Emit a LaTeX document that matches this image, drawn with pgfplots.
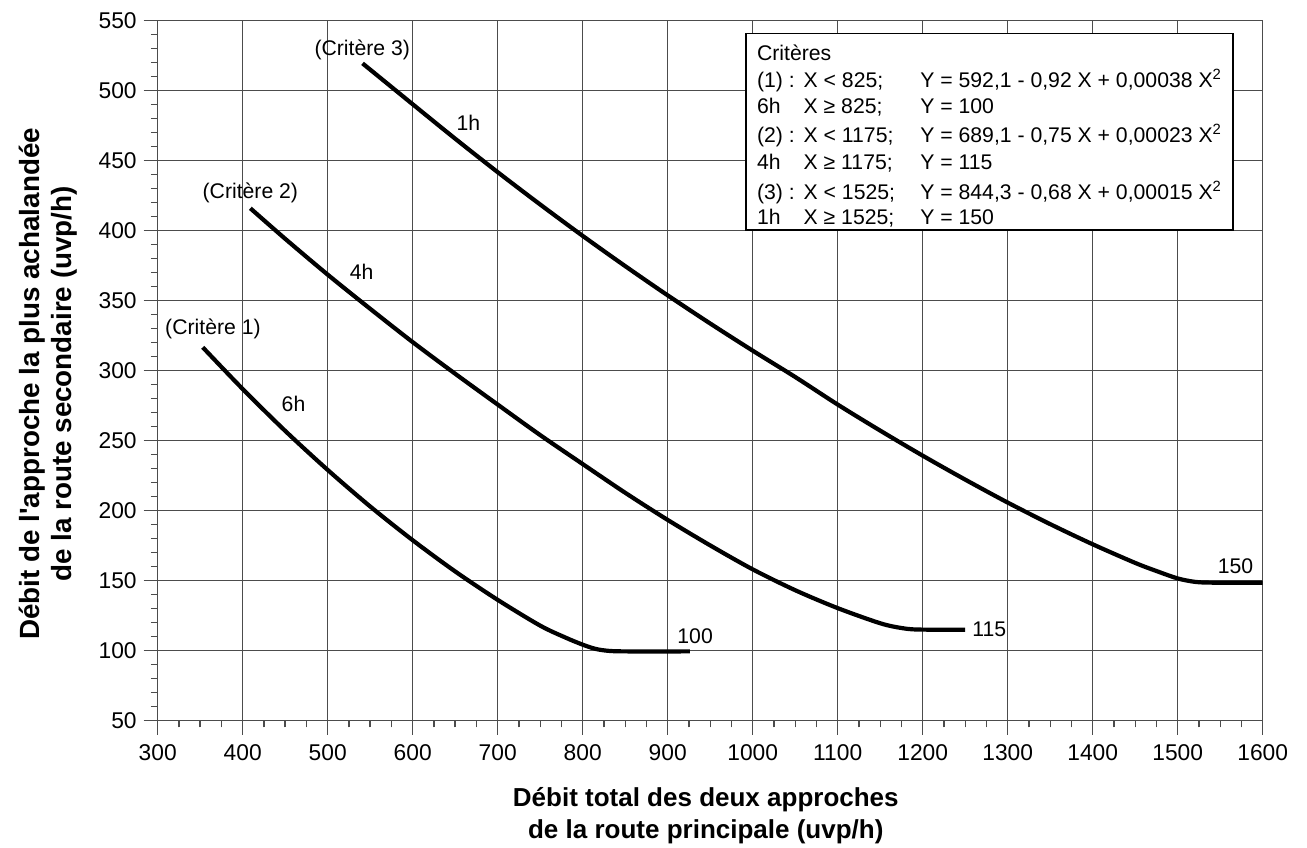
\documentclass[border=0pt]{standalone}
\usepackage{fontspec}
\setmainfont{Liberation Sans}
\usepackage{pgfplots}
\pgfplotsset{compat=1.18}
\begin{document}
\begin{tikzpicture}
\def\lfont{\fontsize{10.6}{12.5}\selectfont}
\begin{axis}[
  scale only axis,
  width=552.5pt, height=350pt,
  xmin=300, xmax=1600, ymin=50, ymax=550,
  xtick={300,400,...,1600},
  ytick={50,100,...,550},
  minor x tick num=3,
  minor y tick num=4,
  tick align=outside,
  major tick length=7pt,
  minor tick length=3.4pt,
  tick pos=left,
  grid=major,
  major grid style={line width=0.7pt, draw=black!70},
  axis line style={line width=0.7pt, draw=black!70},
  every tick/.style={line width=0.7pt, draw=black!70},
  tick label style={font=\fontsize{11.4}{14}\selectfont, black},
  xticklabel style={yshift=-1.5pt},
  /pgf/number format/assume math mode=true,
  /pgf/number format/1000 sep={},
  xlabel={Débit total des deux approches\\de la route principale (uvp/h)},
  xlabel style={font=\fontsize{13}{15.85}\selectfont\bfseries, align=center,
    at={(axis description cs:0.496,-0.085)}, anchor=north},
  ylabel={Débit de l\textquotesingle approche la plus achalandée\\de la route secondaire (uvp/h)},
  ylabel style={font=\fontsize{13.9}{16}\selectfont\bfseries, align=center,
    at={(axis description cs:-0.066,0.481)}, anchor=south},
]
% Critere 1 (6h)
\addplot[black, line width=2.1pt, smooth, tension=0.5] coordinates {
 (353,316.7) (400,286.9) (450,257) (500,229.1) (550,203) (600,178.9)
 (650,156.6) (700,136.3) (750,117.9) (780,109.3) (800,104.3) (815,101.3)
 (830,99.9) (850,99.5) (926,99.5)};
% Critere 2 (4h)
\addplot[black, line width=2.1pt, smooth, tension=0.5] coordinates {
 (409,416) (450,394.2) (500,368.6) (550,344.2) (600,320.4) (650,297.8)
 (700,275.8) (750,254) (800,233.3) (850,212.8) (900,193.4) (950,175.2)
 (1000,158.1) (1050,143.2) (1100,130.4) (1150,119.6) (1175,116.2)
 (1195,115.1) (1250,115)};
% Critere 3 (1h)
\addplot[black, line width=2.1pt, smooth, tension=0.5] coordinates {
 (541,519.5) (600,490.3) (650,465.7) (700,441.8) (750,418.7) (800,396.3)
 (850,374.7) (900,353.8) (950,333.7) (1000,314.3) (1050,295.5) (1100,275.8)
 (1150,257.2) (1200,239.3) (1250,222.2) (1300,205.8) (1350,190.4)
 (1400,176) (1450,162.7) (1475,156.9) (1500,151.6) (1520,149.2)
 (1540,148.6) (1600,148.5)};
% curve labels
\node[font=\lfont] at (axis cs:540.6,529) {(Critère 3)};
\node[font=\lfont] at (axis cs:409,426.7) {(Critère 2)};
\node[font=\lfont] at (axis cs:365,329.6) {(Critère 1)};
\node[font=\lfont] at (axis cs:665.6,477) {1h};
\node[font=\lfont] at (axis cs:540,370.3) {4h};
\node[font=\lfont] at (axis cs:459.8,276.2) {6h};
\node[font=\lfont, anchor=west, inner sep=0pt] at (axis cs:911,110) {100};
\node[font=\lfont, anchor=west, inner sep=0pt] at (axis cs:1258,115.4) {115};
\node[font=\lfont] at (axis cs:1568,160.7) {150};
% criteria box
\draw[line width=0.7pt, fill=white] (axis cs:992.1,541) rectangle (axis cs:1565.1,400.5);
\node[font=\lfont, anchor=base west, inner sep=0pt] at (axis cs:1004.7,521.4) {Critères};
\node[font=\lfont, anchor=base west, inner sep=0pt] at (axis cs:1004.7,502.4) {(1) :};
\node[font=\lfont, anchor=base west, inner sep=0pt] at (axis cs:1059.5,502.4) {X < 825;};
\node[font=\lfont, anchor=base west, inner sep=0pt] at (axis cs:1196.8,502.4) {Y = 592,1 - 0,92 X + 0,00038 X\textsuperscript{2}};
\node[font=\lfont, anchor=base west, inner sep=0pt] at (axis cs:1004.7,483.9) {6h};
\node[font=\lfont, anchor=base west, inner sep=0pt] at (axis cs:1059.5,483.9) {X ≥ 825;};
\node[font=\lfont, anchor=base west, inner sep=0pt] at (axis cs:1196.8,483.9) {Y = 100};
\node[font=\lfont, anchor=base west, inner sep=0pt] at (axis cs:1004.7,462.9) {(2) :};
\node[font=\lfont, anchor=base west, inner sep=0pt] at (axis cs:1059.5,462.9) {X < 1175;};
\node[font=\lfont, anchor=base west, inner sep=0pt] at (axis cs:1196.8,462.9) {Y = 689,1 - 0,75 X + 0,00023 X\textsuperscript{2}};
\node[font=\lfont, anchor=base west, inner sep=0pt] at (axis cs:1004.7,443.9) {4h};
\node[font=\lfont, anchor=base west, inner sep=0pt] at (axis cs:1059.5,443.9) {X ≥ 1175;};
\node[font=\lfont, anchor=base west, inner sep=0pt] at (axis cs:1196.8,443.9) {Y = 115};
\node[font=\lfont, anchor=base west, inner sep=0pt] at (axis cs:1004.7,422.4) {(3) :};
\node[font=\lfont, anchor=base west, inner sep=0pt] at (axis cs:1059.5,422.4) {X < 1525;};
\node[font=\lfont, anchor=base west, inner sep=0pt] at (axis cs:1196.8,422.4) {Y = 844,3 - 0,68 X + 0,00015 X\textsuperscript{2}};
\node[font=\lfont, anchor=base west, inner sep=0pt] at (axis cs:1004.7,404.6) {1h};
\node[font=\lfont, anchor=base west, inner sep=0pt] at (axis cs:1059.5,404.6) {X ≥ 1525;};
\node[font=\lfont, anchor=base west, inner sep=0pt] at (axis cs:1196.8,404.6) {Y = 150};
\coordinate (SW) at (rel axis cs:0,0);
\coordinate (NE) at (rel axis cs:1,1);
\end{axis}
\pgfresetboundingbox
\path[use as bounding box] ([shift={(-78.85pt,-63.65pt)}]SW) rectangle ([shift={(22.15pt,10.35pt)}]NE);
\end{tikzpicture}
\end{document}
